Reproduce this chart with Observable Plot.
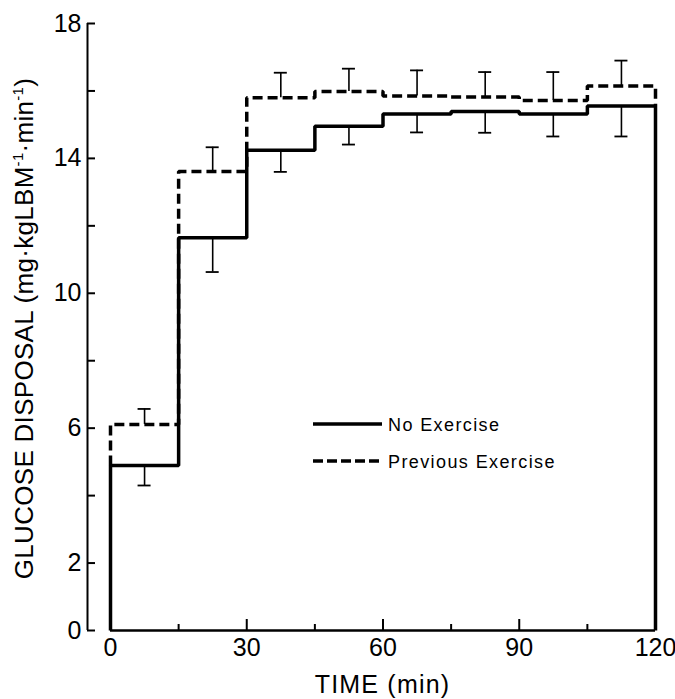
<!DOCTYPE html>
<html><head><meta charset="utf-8">
<script src="https://cdn.jsdelivr.net/npm/d3@7"></script>
<script src="https://cdn.jsdelivr.net/npm/@observablehq/plot@0.6"></script>
<style>body{margin:0;background:#fff}</style>
</head><body><div id="chart"></div>
<script>
// ---- data ----
const periodStart = [0, 15, 30, 45, 60, 75, 90, 105];
const periodEnd = 120;
const noExerciseMean = [4.89, 11.65, 14.24, 14.95, 15.32, 15.39, 15.32, 15.55];
const noExerciseSem  = [0.59, 1.02, 0.64, 0.54, 0.55, 0.63, 0.67, 0.90];
const prevExerciseMean = [6.11, 13.61, 15.80, 15.98, 15.85, 15.82, 15.72, 16.15];
const prevExerciseSem  = [0.46, 0.72, 0.74, 0.68, 0.76, 0.74, 0.84, 0.75];
const xTickLabels = [0, 30, 60, 90, 120];
const xMinorTicks = [15, 45, 75, 105];
const yTickLabels = [0, 2, 6, 10, 14, 18];
const yMinorTicks = [4, 8, 12, 16];
const seriesNames = ["No Exercise", "Previous Exercise"];
const xTitle = "TIME (min)";
const yTitleParts = [["GLUCOSE DISPOSAL (mg·kgLBM", false], ["-1", true], ["·min", false], ["-1", true], [")", false]];

// ---- layout ----
const W = 675, H = 699;
const frameLeft = 87, frameRight = 655, frameTop = 23, frameBottom = 630, zeroPx = 110;
const xMin = -(zeroPx - frameLeft) * periodEnd / (frameRight - zeroPx);
const pxPerX = (frameRight - zeroPx) / periodEnd;
const pxPerY = (frameBottom - frameTop) / 18;
const FONT = "'Liberation Sans', Arial, sans-serif";
const INK = "#000";

const mid = periodStart.map(s => s + 7.5);
const solidPath = [{x: 0, y: 0},
  ...periodStart.map((s, i) => ({x: s, y: noExerciseMean[i]})),
  {x: periodEnd, y: noExerciseMean.at(-1)}, {x: periodEnd, y: 0}];
const dashedPath = [{x: 0, y: noExerciseMean[0]},
  ...periodStart.map((s, i) => ({x: s, y: prevExerciseMean[i]})),
  {x: periodEnd, y: prevExerciseMean.at(-1)}, {x: periodEnd, y: noExerciseMean.at(-1)}];
const solidErr = mid.map((m, i) => ({x: m, y1: noExerciseMean[i], y2: noExerciseMean[i] - noExerciseSem[i]}));
const dashedErr = mid.map((m, i) => ({x: m, y1: prevExerciseMean[i], y2: prevExerciseMean[i] + prevExerciseSem[i]}));

const capHalf = 6.5 / pxPerX;

const plot = Plot.plot({
  width: W, height: H,
  marginLeft: frameLeft, marginRight: W - frameRight, marginTop: frameTop, marginBottom: H - frameBottom,
  style: {fontFamily: FONT, fontSize: "25px", color: INK, background: "#fff"},
  x: {domain: [xMin, periodEnd]},
  y: {domain: [0, 18]},
  marks: [
    Plot.ruleX([xMin], {y1: 0, y2: 18, stroke: INK, strokeWidth: 2}),
    Plot.ruleY([0], {x1: 0, x2: periodEnd, stroke: INK, strokeWidth: 2.5}),
    // inward ticks
    Plot.ruleY(yTickLabels.concat(yMinorTicks), {y: d => d, x1: xMin, x2: xMin + 8 / pxPerX, stroke: INK, strokeWidth: 2}),
    Plot.ruleX(xTickLabels.slice(1, -1), {x: d => d, y1: 0, y2: 11 / pxPerY, stroke: INK, strokeWidth: 2}),
    Plot.ruleX(xMinorTicks, {x: d => d, y1: 0, y2: 6 / pxPerY, stroke: INK, strokeWidth: 2}),
    Plot.axisX({ticks: xTickLabels, tickSize: 0, tickPadding: 8, label: null, tickFormat: d => String(d)}),
    Plot.axisY({ticks: yTickLabels, tickSize: 0, tickPadding: 6, label: null, tickFormat: d => String(d)}),
    // error bars
    Plot.ruleX(dashedErr, {x: "x", y1: "y1", y2: "y2", stroke: INK, strokeWidth: 1.6}),
    Plot.ruleY(dashedErr, {y: "y2", x1: d => d.x - capHalf, x2: d => d.x + capHalf, stroke: INK, strokeWidth: 1.8}),
    Plot.ruleX(solidErr, {x: "x", y1: "y1", y2: "y2", stroke: INK, strokeWidth: 1.6}),
    Plot.ruleY(solidErr, {y: "y2", x1: d => d.x - capHalf, x2: d => d.x + capHalf, stroke: INK, strokeWidth: 1.8}),
    // step lines
    Plot.line(dashedPath, {x: "x", y: "y", curve: "step-after", stroke: INK, strokeWidth: 3.5, strokeDasharray: "10,5", strokeLinejoin: "miter", strokeLinecap: "butt"}),
    Plot.line(solidPath, {x: "x", y: "y", curve: "step-after", stroke: INK, strokeWidth: 3.5, strokeLinejoin: "miter", strokeLinecap: "butt"})
  ]
});
document.getElementById("chart").appendChild(plot);

const svg = d3.select(plot);
const yt = svg.append("text")
  .attr("transform", `translate(33,${(frameTop + frameBottom) / 2 + 2}) rotate(-90)`)
  .attr("text-anchor", "middle").attr("font-family", FONT).attr("font-size", 26)
  .attr("letter-spacing", 0.3).attr("fill", INK);
yTitleParts.forEach(([t, sup], i) => {
  const ts = yt.append("tspan").text(t);
  const prevSup = i > 0 && yTitleParts[i - 1][1];
  if (sup) ts.attr("font-size", 15).attr("dy", -10);
  else if (prevSup) ts.attr("dy", 10);
});
svg.append("text").attr("x", (zeroPx + frameRight) / 2).attr("y", 693)
  .attr("text-anchor", "middle").attr("font-family", FONT).attr("font-size", 25)
  .attr("letter-spacing", 1.2).attr("fill", INK).text(xTitle);
const leg = svg.append("g").attr("font-family", FONT).attr("font-size", 18)
  .attr("letter-spacing", 1.4).attr("text-anchor", "start");
[[424, null], [461, "10,4"]].forEach(([y, dash], i) => {
  leg.append("line").attr("x1", 313).attr("x2", 382).attr("y1", y).attr("y2", y)
    .attr("stroke", INK).attr("stroke-width", 3.5).attr("stroke-dasharray", dash);
  leg.append("text").attr("x", 388).attr("y", y + 7).attr("fill", INK)
    .attr("text-anchor", "start").text(seriesNames[i]);
});
</script>
</body></html>
